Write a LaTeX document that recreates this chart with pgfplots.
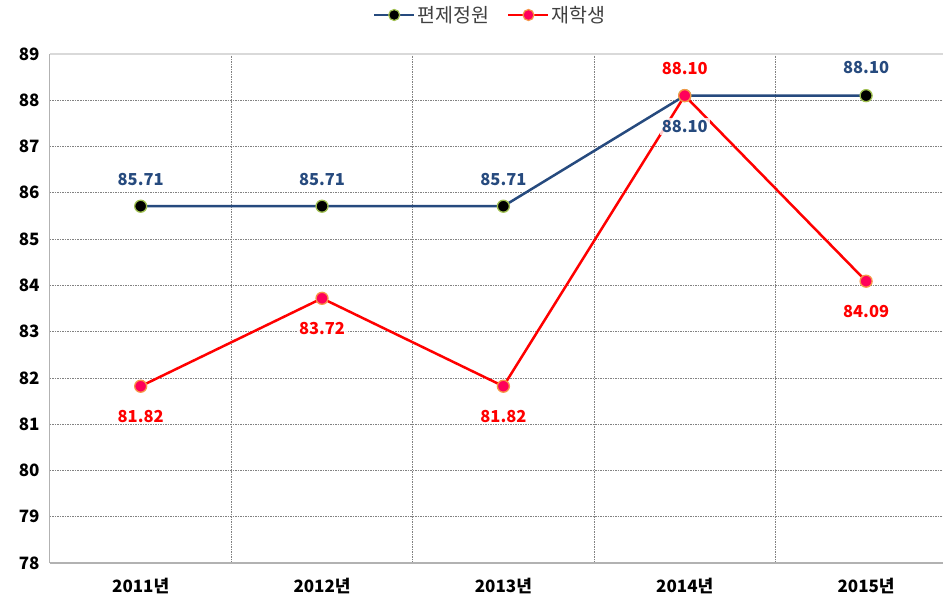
\documentclass[border=0pt]{standalone}
\usepackage{fontspec}
\setmainfont{Noto Sans CJK KR}
\usepackage{pgfplots}
\usepackage{pgfplotstable}
\pgfplotsset{compat=1.18}
\definecolor{bl}{RGB}{38,74,126}
\definecolor{rd}{RGB}{255,0,0}
\definecolor{bmk}{RGB}{160,192,80}
\definecolor{rmkfill}{RGB}{255,0,90}
\definecolor{rmkdraw}{RGB}{247,150,70}
\definecolor{gridc}{RGB}{130,130,130}
\definecolor{legtext}{RGB}{64,64,64}
\pgfplotstableread{
x y dy
1 85.71 27
2 85.71 27
3 85.71 27
4 88.10 -31
5 88.10 28
}\bluedata
\pgfplotstableread{
x y dy
1 81.82 -30
2 83.72 -30
3 81.82 -30
4 88.10 27
5 84.09 -30
}\reddata
\begin{document}
\begin{tikzpicture}
\begin{axis}[
 at={(0pt,0pt)}, anchor=south west,
 scale only axis, width=893pt, height=509pt,
 xmin=0.5, xmax=5.424, ymin=78, ymax=89,
 clip=false,
 xtick={1,2,3,4,5}, xticklabels={2011년,2012년,2013년,2014년,2015년},
 minor xtick={1.5,2.5,3.5,4.5},
 ytick={78,79,...,89},
 major tick length=0pt, minor tick length=0pt,
 ymajorgrids, xminorgrids,
 grid style={gridc, dash pattern=on 1.5pt off 1pt, line width=0.7pt},
 axis line style={draw=none},
 tick label style={font=\bfseries\fontsize{17}{20}\selectfont, text=black},
 yticklabel style={xshift=-7pt},
 xticklabel style={yshift=-12pt},
 /pgf/number format/assume math mode=true,
 legend style={at={(axis description cs:0.493,1.0766)}, anchor=center, draw=none,
   font=\fontsize{19.5}{23}\selectfont, text=legtext, legend columns=2,
   /tikz/every even column/.append style={column sep=16pt}},
 legend image code/.code={\draw[mark repeat=2,mark phase=2,#1] plot coordinates {(0pt,0pt) (20pt,0pt) (40pt,0pt)};},
]
\addlegendimage{bl, line width=2.5pt, mark=*, mark size=5.5pt, mark options={fill=black, draw=bmk, line width=1.2pt}}
\addlegendentry{편제정원}
\addlegendimage{rd, line width=2.5pt, mark=*, mark size=5.5pt, mark options={fill=rmkfill, draw=rmkdraw, line width=1.2pt}}
\addlegendentry{재학생}

\draw[gray!60, line width=1.6pt] (rel axis cs:0,0) -- (rel axis cs:1,0);
\draw[gray!60, line width=1pt] (rel axis cs:0,0) -- (rel axis cs:0,1);
\draw[gray!30, line width=2pt] (rel axis cs:0,1) -- (rel axis cs:1,1);

\addplot[bl, line width=2.5pt, forget plot] table[x=x,y=y]{\bluedata};
\addplot[rd, line width=2.5pt, forget plot] table[x=x,y=y]{\reddata};
\addplot[bl, only marks, mark=*, mark size=6pt, mark options={fill=black, draw=bmk, line width=1.3pt}, forget plot,
  point meta=y,
  visualization depends on={\thisrow{dy} \as \dy},
  nodes near coords={\pgfmathprintnumber[fixed,fixed zerofill,precision=2]{\pgfplotspointmeta}},
  every node near coord/.append style={font=\bfseries\fontsize{16.5}{19}\selectfont, text=bl, anchor=center, yshift=\dy*1pt, fill=white, fill opacity=0.8, text opacity=1, inner sep=2pt}
 ] table[x=x,y=y]{\bluedata};
\addplot[rd, only marks, mark=*, mark size=6pt, mark options={fill=rmkfill, draw=rmkdraw, line width=1.3pt}, forget plot,
  point meta=y,
  visualization depends on={\thisrow{dy} \as \dy},
  nodes near coords={\pgfmathprintnumber[fixed,fixed zerofill,precision=2]{\pgfplotspointmeta}},
  every node near coord/.append style={font=\bfseries\fontsize{16.5}{19}\selectfont, text=rd, anchor=center, yshift=\dy*1pt, fill=white, fill opacity=0.8, text opacity=1, inner sep=2pt}
 ] table[x=x,y=y]{\reddata};
\end{axis}
\pgfresetboundingbox
\useasboundingbox (-50pt,-38pt) rectangle (893pt,563pt);
\end{tikzpicture}
\end{document}
